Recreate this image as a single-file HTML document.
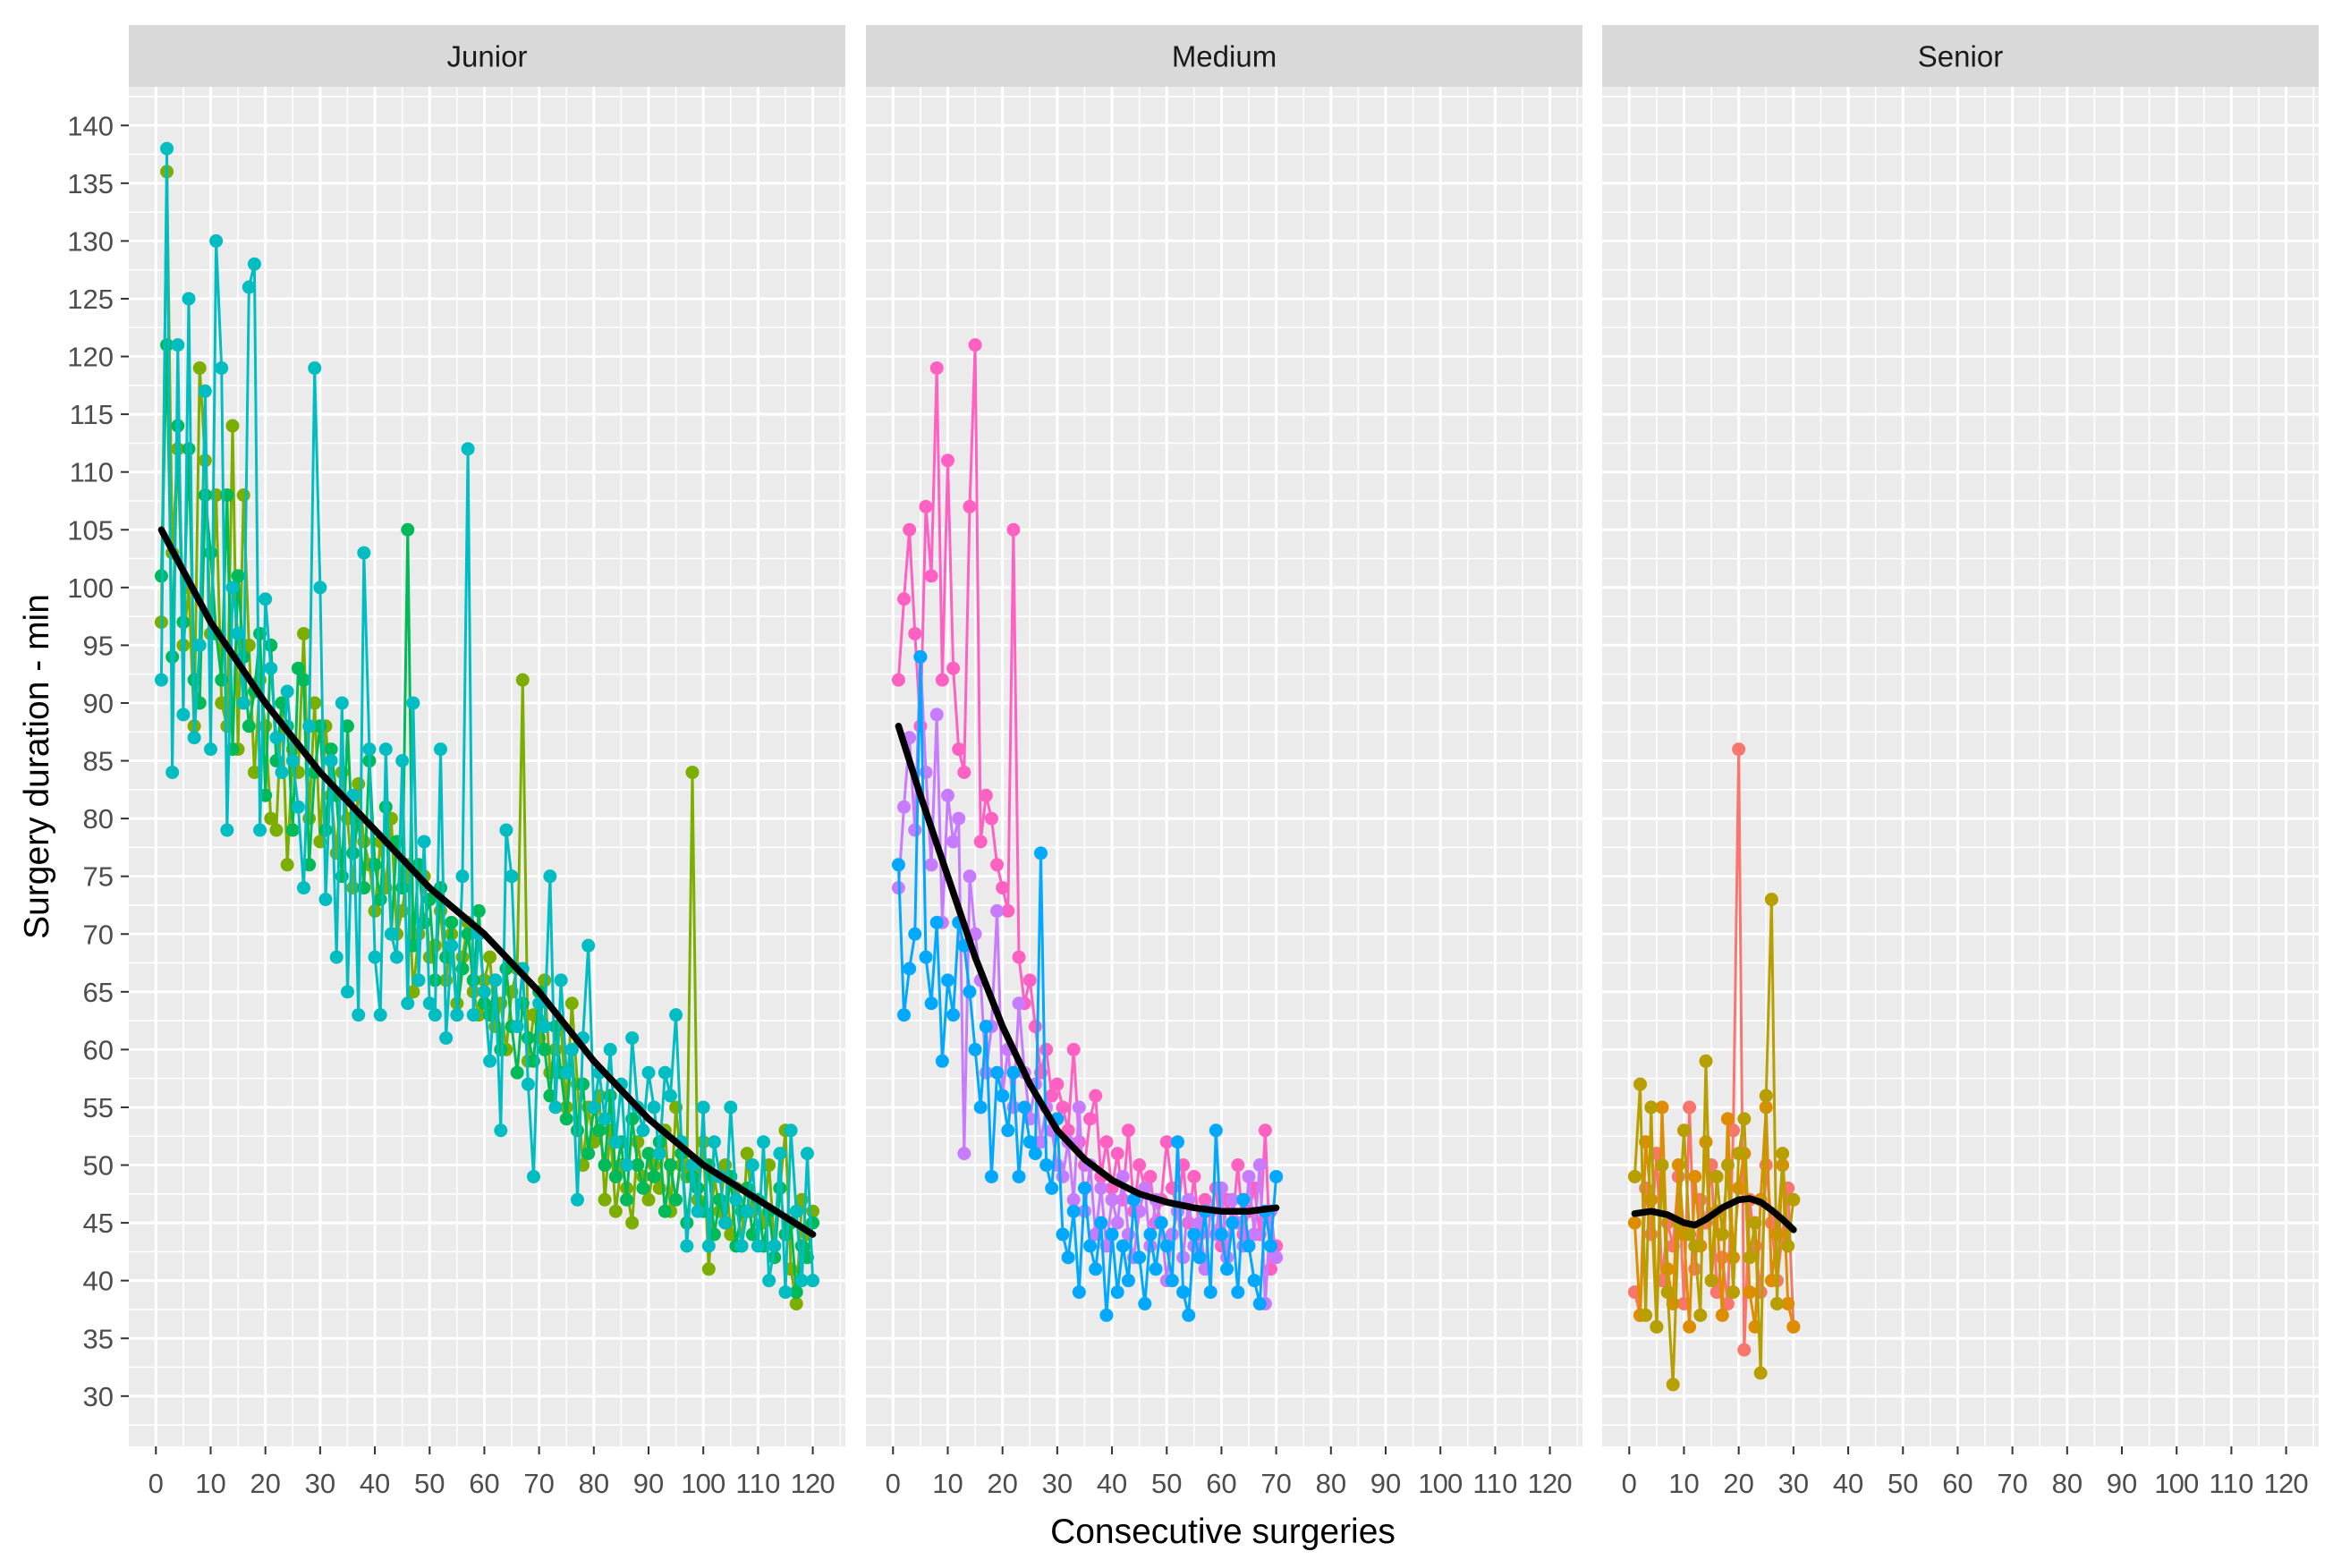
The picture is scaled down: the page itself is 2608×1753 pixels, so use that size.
<!DOCTYPE html>
<html><head><meta charset="utf-8"><style>
html,body{margin:0;padding:0;background:#fff;}
svg{display:block;font-family:"Liberation Sans",Arial,sans-serif;}
</style></head><body>
<svg id="chart" width="2608" height="1753" viewBox="0 0 2608 1753" xmlns="http://www.w3.org/2000/svg">
<rect width="2608" height="1753" fill="#fff"/>
</svg>
<script>
// ---- data ----
const panelNames = ["Junior","Medium","Senior"];
const xTicks = [0,10,20,30,40,50,60,70,80,90,100,110,120];
const yTicks = [30,35,40,45,50,55,60,65,70,75,80,85,90,95,100,105,110,115,120,125,130,135,140];

const juniorColors = ["#7CAE00","#00BA5A","#00BDC2"];
const juniorA = [97,136,103,112,95,100,88,119,111,96,108,90,88,114,86,108,95,84,92,88,80,79,90,76,86,84,96,80,90,78,88,82,77,84,80,74,83,78,76,72,78,74,80,70,72,76,65,70,75,68,69,72,66,70,64,68,71,65,63,66,68,62,64,60,65,67,92,59,63,61,66,58,60,62,55,64,57,50,55,52,56,47,53,46,50,48,45,52,49,47,50,48,53,46,55,50,49,84,47,52,41,49,46,50,44,48,43,51,46,47,45,50,43,48,53,41,38,47,44,46];
const juniorB = [101,121,94,114,97,112,92,90,108,103,96,92,108,86,101,94,88,91,96,82,95,85,90,88,79,93,92,76,84,88,79,86,82,75,88,77,80,74,85,76,73,81,70,78,74,105,69,76,71,73,66,74,68,71,63,67,70,66,72,64,63,66,60,67,62,58,64,61,59,65,60,56,62,58,54,60,53,57,51,55,53,50,56,49,52,47,54,50,48,51,49,52,46,50,47,51,45,49,48,46,50,44,47,45,49,43,46,48,44,47,43,46,42,48,44,45,39,43,42,45];
const juniorC = [92,138,84,121,89,125,87,95,117,86,130,119,79,100,96,90,126,128,79,99,93,87,84,91,85,81,74,88,119,100,73,85,68,90,65,82,63,103,86,68,63,86,70,68,85,64,90,66,78,64,63,86,61,69,63,75,112,63,70,65,59,66,53,79,75,62,67,57,49,64,62,75,55,66,58,60,47,61,69,55,58,54,60,52,57,50,61,55,53,58,55,51,58,56,63,52,43,50,46,55,43,52,49,45,55,47,43,46,50,43,52,40,43,51,39,53,46,40,51,40];
const juniorSmoothX = [1,10,20,30,40,50,60,70,80,90,100,110,120];
const juniorSmoothY = [105,97,90,84,79,74,70,65,59,54,50,47,44];

const mediumColors = ["#FF61C3","#C77CFF","#00A9FF"];
const mediumA = [92,99,105,96,88,107,101,119,92,111,93,86,84,107,121,78,82,80,76,74,72,105,68,64,66,62,58,60,56,57,55,53,60,52,50,54,56,49,52,48,51,47,53,46,50,48,49,45,47,52,48,46,50,45,49,44,47,46,48,43,47,45,50,44,46,48,44,53,41,43];
const mediumB = [74,81,87,79,94,84,76,89,71,82,78,80,51,75,70,66,58,62,72,56,60,55,64,58,54,57,52,55,53,50,49,52,47,55,46,50,44,48,43,47,45,49,44,42,46,48,43,47,45,40,44,46,42,47,43,45,41,46,44,48,42,47,45,43,49,44,50,38,46,42];
const mediumC = [76,63,67,70,94,68,64,71,59,66,63,71,69,65,60,55,62,49,58,56,53,58,49,55,52,51,77,50,48,54,44,42,46,39,48,43,41,45,37,44,39,43,40,47,42,38,44,41,45,43,40,52,39,37,44,42,46,39,53,44,41,45,39,47,43,40,38,46,43,49];
const mediumSmoothX = [1,5,10,15,20,25,30,35,40,45,50,55,60,65,70];
const mediumSmoothY = [88,82,75,68,62,57,53,50.5,48.7,47.5,46.8,46.3,46,46,46.3];

const seniorColors = ["#F8766D","#DE8C00","#B79F00"];
const seniorA = [39,37,48,44,51,40,45,43,49,38,55,41,47,45,50,39,42,38,53,86,34,47,43,39,50,45,40,44,48,36];
const seniorB = [45,37,52,47,36,55,41,38,50,44,36,49,43,52,40,46,37,54,42,48,51,39,36,47,55,40,44,50,38,36];
const seniorC = [49,57,37,55,36,50,39,31,45,53,44,43,37,59,40,49,44,50,39,51,54,42,45,32,56,73,38,51,43,47];
const seniorSmoothX = [1,4,7,10,12,14,17,20,22,24,26,28,30];
const seniorSmoothY = [45.8,46,45.7,45,44.8,45.3,46.3,47,47.1,46.8,46.1,45.3,44.4];

// ---- layout ----
const NS = "http://www.w3.org/2000/svg";
const svg = document.getElementById("chart");
const panelLeft = [144, 968, 1791];
const panelW = 801;
const panelTop = 97, panelBottom = 1617, stripTop = 28;
const xMin = -4.95, xMax = 125.95, yMin = 25.65, yMax = 143.35;
function xScale(p, v){ return panelLeft[p] + (v - xMin) / (xMax - xMin) * panelW; }
function yScale(v){ return panelBottom - (v - yMin) / (yMax - yMin) * (panelBottom - panelTop); }
function mk(tag, attrs, parent){
  const e = document.createElementNS(NS, tag);
  for (const k in attrs) e.setAttribute(k, attrs[k]);
  (parent || svg).appendChild(e);
  return e;
}

const panelSeries = [
  {series:[juniorA,juniorB,juniorC], colors:juniorColors, sx:juniorSmoothX, sy:juniorSmoothY},
  {series:[mediumA,mediumB,mediumC], colors:mediumColors, sx:mediumSmoothX, sy:mediumSmoothY},
  {series:[seniorA,seniorB,seniorC], colors:seniorColors, sx:seniorSmoothX, sy:seniorSmoothY}
];

panelNames.forEach((name, p) => {
  const g = mk("g", {});
  
  
  const bg = mk("rect", {x:panelLeft[p], y:panelTop, width:panelW, height:panelBottom-panelTop, fill:"#EBEBEB"}, g);
  
  
  const strip = mk("rect", {x:panelLeft[p], y:stripTop, width:panelW, height:panelTop-stripTop, fill:"#D9D9D9"}, g);
  
  
  const st = mk("text", {x:panelLeft[p]+panelW/2, y:(stripTop+panelTop)/2+12, "text-anchor":"middle", "font-size":"33", fill:"#1A1A1A"}, g);
  st.textContent = name;
  
  
  const grid = mk("g", {}, g);
  
  
  for (let i = 0; i < yTicks.length; i++) {
    const y = yScale(yTicks[i]);
    mk("line", {x1:panelLeft[p], x2:panelLeft[p]+panelW, y1:y, y2:y, stroke:"#fff", "stroke-width":3}, grid);
    const ym = yScale(yTicks[i] + 2.5);
    if (ym > panelTop) mk("line", {x1:panelLeft[p], x2:panelLeft[p]+panelW, y1:ym, y2:ym, stroke:"#fff", "stroke-width":1.5}, grid);
    if (i === 0) { const y0 = yScale(yTicks[0]-2.5); mk("line", {x1:panelLeft[p], x2:panelLeft[p]+panelW, y1:y0, y2:y0, stroke:"#fff", "stroke-width":1.5}, grid); }
  }
  for (let i = 0; i < xTicks.length; i++) {
    const x = xScale(p, xTicks[i]);
    mk("line", {x1:x, x2:x, y1:panelTop, y2:panelBottom, stroke:"#fff", "stroke-width":3}, grid);
    const xm = xScale(p, xTicks[i] + 5);
    if (xm < panelLeft[p] + panelW) mk("line", {x1:xm, x2:xm, y1:panelTop, y2:panelBottom, stroke:"#fff", "stroke-width":1.5}, grid);
    mk("line", {x1:x, x2:x, y1:panelBottom, y2:panelBottom+9, stroke:"#333", "stroke-width":2}, g);
    const tl = mk("text", {x:x, y:panelBottom+52, "text-anchor":"middle", "font-size":"31", fill:"#4D4D4D", "textLength": xTicks[i]>=100 ? 50 : null}, g);
    if (xTicks[i] < 100) tl.removeAttribute("textLength");
    tl.textContent = xTicks[i];
    
    
  }
  const ps = panelSeries[p];
  ps.series.forEach((vals, si) => {
    const sg = mk("g", {}, g);
    
    
    const pts = vals.map((v, i) => xScale(p, i+1).toFixed(1) + "," + yScale(v).toFixed(1)).join(" ");
    const pl = mk("polyline", {points:pts, fill:"none", stroke:ps.colors[si], "stroke-width":3, "stroke-linejoin":"round"}, sg);
    
    
    vals.forEach((v, i) => {
      const c = mk("circle", {cx:xScale(p, i+1), cy:yScale(v), r:7.5, fill:ps.colors[si]}, sg);
      
      
    });
  });
  const sp = ps.sx.map((xv, i) => xScale(p, xv).toFixed(1) + "," + yScale(ps.sy[i]).toFixed(1)).join(" ");
  const smooth = mk("polyline", {points:sp, fill:"none", stroke:"#000", "stroke-width":7.5, "stroke-linejoin":"round", "stroke-linecap":"round"}, g);
  
  
});

yTicks.forEach(v => {
  const y = yScale(v);
  mk("line", {x1:135, x2:144, y1:y, y2:y, stroke:"#333", "stroke-width":2});
  const t = mk("text", {x:127, y:y+11, "text-anchor":"end", "font-size":"31", fill:"#4D4D4D"});
  t.textContent = v;
  
  
});
const yt = mk("text", {x:0, y:0, transform:"translate(54,857) rotate(-90)", "text-anchor":"middle", "font-size":"39", fill:"#000"});
yt.textContent = "Surgery duration - min";


const xt = mk("text", {x:1367, y:1725, "text-anchor":"middle", "font-size":"39", fill:"#000"});
xt.textContent = "Consecutive surgeries";


</script>
</body></html>
